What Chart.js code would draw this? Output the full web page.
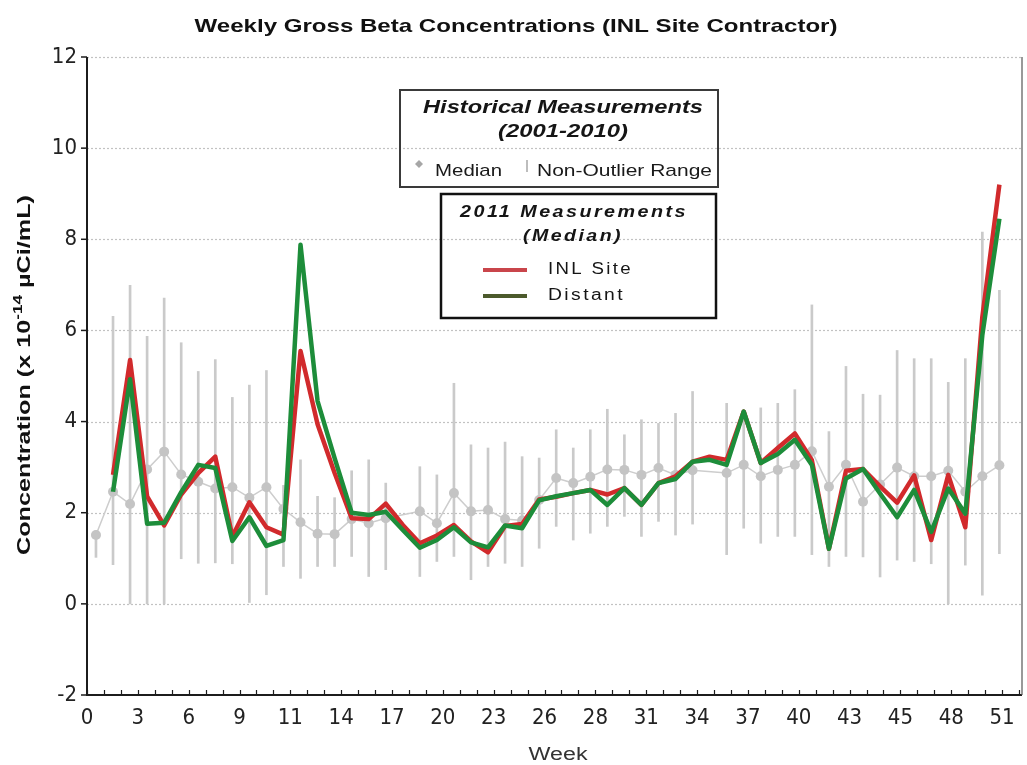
<!DOCTYPE html>
<html>
<head>
<meta charset="utf-8">
<title>Weekly Gross Beta Concentrations</title>
<script src="https://cdn.jsdelivr.net/npm/chart.js@4.4.1/dist/chart.umd.min.js"></script>
<style>
  html, body { margin: 0; padding: 0; background: #ffffff; }
  #wrap { position: relative; width: 1027px; height: 765px; }
</style>
</head>
<body>
<div id="wrap"><canvas id="chart" width="1027" height="765"></canvas></div>
<script>
// Sampling position of each weekly value along the week axis
const weekPos = [
  0.5, 1.45, 2.4, 3.35, 4.3, 5.25, 6.2, 7.15, 8.1, 9.05,
  10, 10.95, 11.9, 12.85, 13.8, 14.75, 15.7, 16.65, 17.6, 18.55,
  19.5, 20.45, 21.4, 22.35, 23.3, 24.25, 25.2, 26.15, 27.1, 28.05,
  29, 29.95, 30.9, 31.85, 32.8, 33.75, 34.7, 35.65, 36.6, 37.55,
  38.5, 39.45, 40.4, 41.35, 42.3, 43.25, 44.2, 45.15, 46.1, 47.05,
  48, 48.95, 49.9, 50.85
];

// Historical measurements (2001-2010): weekly median
const histMedian = [
  1.51, 2.46, 2.19, 2.95, 3.34, 2.84, 2.68, 2.53, 2.56, 2.33,
  2.56, 2.08, 1.79, 1.54, 1.53, 1.86, 1.77, 1.88, null, 2.03,
  1.77, 2.43, 2.03, 2.06, 1.86, 1.83, 2.28, 2.76, 2.65, 2.79,
  2.95, 2.94, 2.83, 2.98, 2.83, 2.93, null, 2.87, 3.05, 2.80,
  2.94, 3.05, 3.35, 2.57, 3.05, 2.24, 2.62, 2.99, 2.80, 2.80,
  2.92, 2.46, 2.80, 3.04
];

// Historical non-outlier range: lower end
const histLow = [
  1.02, 0.86, 0.00, 0.00, 0.00, 0.99, 0.89, 0.90, 0.88, 0.03,
  0.20, 0.82, 0.56, 0.82, 0.82, 1.04, 0.60, 0.75, null, 0.60,
  0.93, 1.04, 0.53, 0.82, 0.89, 0.82, 1.22, 1.70, 1.40, 1.55,
  1.70, 1.92, 1.48, 1.81, 1.51, 1.75, null, 1.08, 1.66, 1.33,
  1.48, 1.48, 1.08, 0.82, 1.04, 1.03, 0.59, 0.96, 0.93, 0.88,
  0.00, 0.85, 0.19, 1.10
];

// Historical non-outlier range: upper end
const histHigh = [
  1.60, 6.31, 6.99, 5.87, 6.71, 5.73, 5.10, 5.36, 4.53, 4.80,
  5.12, 2.60, 3.16, 2.36, 2.33, 2.92, 3.16, 2.65, null, 3.01,
  2.83, 4.84, 3.49, 3.42, 3.55, 3.23, 3.20, 3.82, 3.42, 3.82,
  4.27, 3.71, 4.04, 3.96, 4.18, 4.66, null, 4.40, 4.04, 4.30,
  4.40, 4.70, 6.56, 3.78, 5.21, 4.60, 4.58, 5.56, 5.38, 5.38,
  4.86, 5.38, 8.16, 6.88
];

// 2011 weekly medians, INL Site locations
const inlSite = [
  null, 2.83, 5.35, 2.36, 1.72, 2.40, 2.87, 3.23, 1.48, 2.23,
  1.68, 1.52, 5.55, 3.94, 2.87, 1.88, 1.86, 2.20, 1.73, 1.33,
  1.50, 1.73, 1.37, 1.13, 1.71, 1.75, 2.29, 2.35, 2.43, 2.50,
  2.40, 2.54, 2.17, 2.65, 2.80, 3.12, 3.23, 3.16, 4.22, 3.09,
  3.42, 3.74, 3.15, 1.21, 2.92, 2.96, 2.58, 2.22, 2.82, 1.40,
  2.83, 1.68, 6.30, 9.20
];

// 2011 weekly medians, distant locations
const distant = [
  null, 2.46, 4.93, 1.76, 1.78, 2.45, 3.05, 2.98, 1.38, 1.90,
  1.27, 1.40, 7.88, 4.45, 3.20, 2.00, 1.95, 2.02, 1.62, 1.23,
  1.40, 1.68, 1.35, 1.24, 1.72, 1.66, 2.27, 2.36, 2.43, 2.50,
  2.17, 2.54, 2.17, 2.65, 2.74, 3.12, 3.16, 3.05, 4.22, 3.09,
  3.29, 3.60, 3.05, 1.21, 2.75, 2.96, 2.42, 1.90, 2.50, 1.58,
  2.53, 1.98, 5.90, 8.45
];

// Axis tick labels
const weekTickLabels = [0, 3, 6, 9, 11, 14, 17, 20, 23, 26, 28, 31, 34, 37, 40, 43, 45, 48, 51];
const concTicks = [-2, 0, 2, 4, 6, 8, 10, 12];

const WEEK_SPAN = 51;
const WEEK_MAX = 52.11;
const RED = '#d12a2c';
const GREEN = '#1d8d3a';
const TICK_FONT = '"Liberation Sans Narrow", "Arial Narrow", "DejaVu Sans Condensed", sans-serif';
const TEXT_FONT = '"Liberation Sans", Arial, sans-serif';

const toPoints = (vals) => weekPos.map((x, i) => ({ x, y: vals[i] }));
const rangeBars = weekPos
  .map((x, i) => (histLow[i] == null ? null : { x, y: [histLow[i], histHigh[i]] }))
  .filter(Boolean);

// Draw text squeezed/stretched to a given width
function fitText(ctx, text, x, y, width, align) {
  const w = ctx.measureText(text).width;
  ctx.save();
  ctx.translate(x, y);
  ctx.scale(width / w, 1);
  ctx.textAlign = align;
  ctx.fillText(text, 0, 0);
  ctx.restore();
}

const decor = {
  id: 'decor',
  beforeDatasetsDraw(chart) {
    const { ctx, chartArea: a, scales: { y } } = chart;
    ctx.save();
    ctx.strokeStyle = '#c2c2c2';
    ctx.lineWidth = 1.2;
    ctx.setLineDash([2, 2]);
    concTicks.forEach(v => {
      if (v === concTicks[0]) return;
      const py = Math.round(y.getPixelForValue(v)) + 0.5;
      ctx.beginPath();
      ctx.moveTo(a.left, py);
      ctx.lineTo(a.right, py);
      ctx.stroke();
    });
    ctx.restore();
  },
  afterDatasetsDraw(chart) {
    const { ctx, chartArea: a, scales: { x, y } } = chart;
    ctx.save();
    ctx.strokeStyle = '#1c1c1c';
    // axis lines
    ctx.lineWidth = 2;
    ctx.beginPath();
    ctx.moveTo(a.left, a.top);
    ctx.lineTo(a.left, a.bottom);
    ctx.lineTo(a.right, a.bottom);
    ctx.stroke();
    ctx.lineWidth = 1.2;
    ctx.strokeStyle = '#555';
    ctx.beginPath();
    ctx.moveTo(a.right, a.top);
    ctx.lineTo(a.right, a.bottom);
    ctx.stroke();
    // concentration ticks
    ctx.strokeStyle = '#1c1c1c';
    ctx.lineWidth = 1.5;
    concTicks.forEach(v => {
      const py = y.getPixelForValue(v);
      ctx.beginPath();
      ctx.moveTo(a.left - 6, py);
      ctx.lineTo(a.left, py);
      ctx.stroke();
    });
    // week ticks, three per labelled interval
    ctx.lineWidth = 1.2;
    const step = WEEK_SPAN / 18 / 3;
    for (let v = 0; v <= WEEK_MAX; v += step) {
      const px = Math.round(x.getPixelForValue(v)) + 0.5;
      ctx.beginPath();
      ctx.moveTo(px, a.bottom);
      ctx.lineTo(px, a.bottom - 5);
      ctx.stroke();
    }
    ctx.restore();
  },
  afterDraw(chart) {
    const { ctx } = chart;
    ctx.save();
    ctx.textBaseline = 'middle';

    // chart title
    ctx.fillStyle = '#111';
    ctx.font = `bold 19px ${TEXT_FONT}`;
    fitText(ctx, 'Weekly Gross Beta Concentrations (INL Site Contractor)', 516, 27, 643, 'center');

    // x axis title
    ctx.fillStyle = '#333';
    ctx.font = `18px ${TEXT_FONT}`;
    fitText(ctx, 'Week', 558, 755, 59, 'center');

    // y axis title with superscript exponent
    ctx.fillStyle = '#111';
    const parts = [
      { t: 'Concentration (x 10', f: `bold 19px ${TEXT_FONT}`, dy: 0 },
      { t: '-14', f: `bold 13px ${TEXT_FONT}`, dy: -7 },
      { t: ' \u00B5Ci/mL)', f: `bold 19px ${TEXT_FONT}`, dy: 0 }
    ];
    let total = 0;
    parts.forEach(p => { ctx.font = p.f; p.w = ctx.measureText(p.t).width; total += p.w; });
    ctx.save();
    ctx.translate(25, 375);
    ctx.rotate(-Math.PI / 2);
    ctx.scale(360 / total, 1);
    ctx.textAlign = 'left';
    let cx = -total / 2;
    parts.forEach(p => { ctx.font = p.f; ctx.fillText(p.t, cx, p.dy); cx += p.w; });
    ctx.restore();

    // legend: historical measurements
    ctx.strokeStyle = '#3a3a3a';
    ctx.lineWidth = 2;
    ctx.strokeRect(400, 90, 318, 97);
    ctx.fillStyle = '#151515';
    ctx.font = `italic bold 18px ${TEXT_FONT}`;
    fitText(ctx, 'Historical Measurements', 563, 108, 280, 'center');
    fitText(ctx, '(2001-2010)', 563, 132, 130, 'center');
    ctx.fillStyle = '#a6a6a6';
    ctx.beginPath();
    ctx.moveTo(419, 160); ctx.lineTo(423, 164); ctx.lineTo(419, 168); ctx.lineTo(415, 164);
    ctx.closePath();
    ctx.fill();
    ctx.strokeStyle = '#bdbdbd';
    ctx.lineWidth = 2;
    ctx.beginPath();
    ctx.moveTo(527, 160); ctx.lineTo(527, 172);
    ctx.stroke();
    ctx.fillStyle = '#1a1a1a';
    ctx.font = `17px ${TEXT_FONT}`;
    fitText(ctx, 'Median', 435, 171, 67, 'left');
    fitText(ctx, 'Non-Outlier Range', 537, 171, 175, 'left');

    // legend: 2011 measurements
    ctx.strokeStyle = '#111';
    ctx.lineWidth = 2.5;
    ctx.strokeRect(441, 194, 275, 124);
    ctx.fillStyle = '#151515';
    ctx.letterSpacing = '2px';
    ctx.font = `italic bold 16px ${TEXT_FONT}`;
    fitText(ctx, '2011 Measurements', 574, 213, 228, 'center');
    fitText(ctx, '(Median)', 573, 237, 100, 'center');
    ctx.font = `16px ${TEXT_FONT}`;
    fitText(ctx, 'INL Site', 548, 270, 85, 'left');
    fitText(ctx, 'Distant', 548, 296, 77, 'left');
    ctx.letterSpacing = '0px';
    ctx.lineWidth = 4;
    ctx.strokeStyle = '#c9454b';
    ctx.beginPath(); ctx.moveTo(483, 270); ctx.lineTo(527, 270); ctx.stroke();
    ctx.strokeStyle = '#4c5a2c';
    ctx.beginPath(); ctx.moveTo(483, 296); ctx.lineTo(527, 296); ctx.stroke();
    ctx.restore();
  }
};

new Chart(document.getElementById('chart'), {
  type: 'line',
  data: {
    datasets: [
      {
        label: 'Distant',
        data: toPoints(distant),
        borderColor: GREEN,
        borderWidth: 4.5,
        borderJoinStyle: 'round',
        pointRadius: 0,
        tension: 0,
        order: 0
      },
      {
        label: 'INL Site',
        data: toPoints(inlSite),
        borderColor: RED,
        borderWidth: 4.5,
        borderJoinStyle: 'round',
        pointRadius: 0,
        tension: 0,
        order: 1
      },
      {
        label: 'Median',
        data: toPoints(histMedian),
        borderColor: '#cdcdcd',
        borderWidth: 1.5,
        pointRadius: 5,
        pointBackgroundColor: '#c4c4c4',
        pointBorderWidth: 0,
        spanGaps: true,
        tension: 0,
        order: 2
      },
      {
        type: 'bar',
        label: 'Non-Outlier Range',
        data: rangeBars,
        backgroundColor: '#cacaca',
        barThickness: 2,
        grouped: false,
        order: 3
      }
    ]
  },
  options: {
    responsive: false,
    animation: false,
    devicePixelRatio: 1,
    layout: { padding: { top: 57, left: 0, right: 2, bottom: 0 } },
    plugins: {
      legend: { display: false },
      tooltip: { enabled: false },
      title: { display: false }
    },
    scales: {
      x: {
        type: 'linear',
        min: 0,
        max: WEEK_MAX,
        offset: false,
        grid: { display: false, drawTicks: false },
        border: { display: false },
        afterBuildTicks: (scale) => {
          scale.ticks = weekTickLabels.map((lab, k) => ({ value: k * WEEK_SPAN / 18 }));
        },
        ticks: {
          autoSkip: false,
          maxRotation: 0,
          padding: 10,
          color: '#222',
          font: { family: TICK_FONT, size: 22 },
          callback: (v, i) => String(weekTickLabels[i])
        },
        afterFit: (scale) => { scale.height = 70; }
      },
      y: {
        min: -2,
        max: 12,
        grid: { display: false, drawTicks: false },
        border: { display: false },
        afterBuildTicks: (scale) => {
          scale.ticks = concTicks.map(v => ({ value: v }));
        },
        ticks: {
          padding: 10,
          color: '#222',
          font: { family: TICK_FONT, size: 22 }
        },
        afterFit: (scale) => { scale.width = 87; }
      }
    }
  },
  plugins: [decor]
});
</script>
</body>
</html>
